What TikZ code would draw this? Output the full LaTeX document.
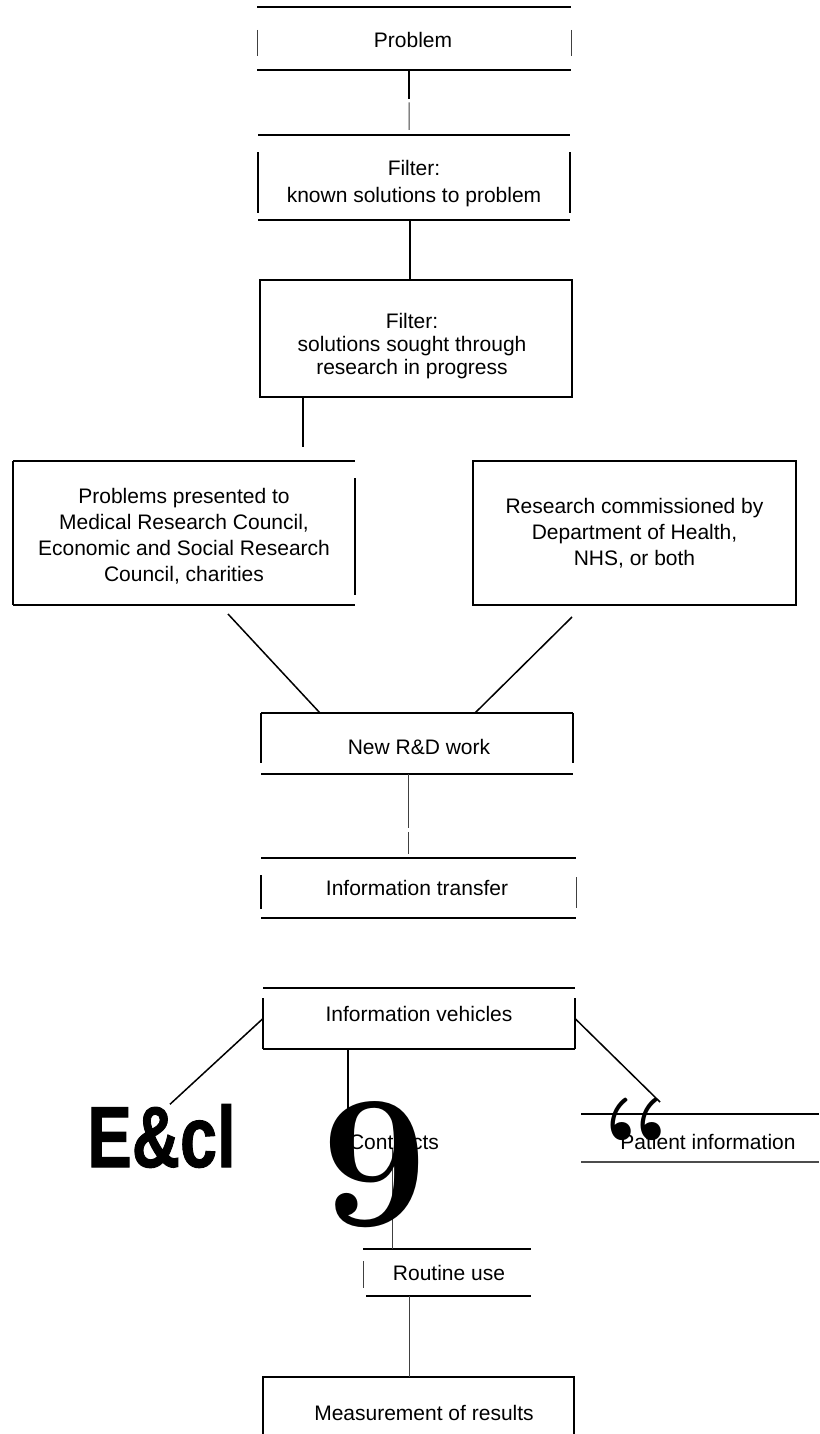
\documentclass[tikz,border=0pt]{standalone}
\usepackage{graphicx}
\usepackage{fontspec}
\newfontfamily\lib[WordSpace=2.1]{Liberation Sans}
\newfontfamily\libb[BoldFeatures={FakeBold=1.2}]{Liberation Sans}
\usetikzlibrary{calc}
\begin{document}
\begin{tikzpicture}[x=0.5pt,y=-0.5pt,
  every node/.style={inner sep=0pt, outer sep=0pt},
  frame/.style={rectangle, draw=none},
  txt/.style={font=\lib\fontsize{10.5pt}{13pt}\selectfont, align=center},
  ln/.style={line width=0.75pt},
  thk/.style={line width=1.3pt},
  thn/.style={line width=0.5pt, black!75}]
\fill[white] (0,0) rectangle (819,1434);
\useasboundingbox (0,0) rectangle (819,1434);

% ---- Problem
\node[frame, minimum width=157pt, minimum height=31.5pt] (prob) at (414,38.5) {};
\node[txt] (tprob) at (413,40) {Problem};
\draw[ln] (prob.north west) -- (prob.north east);
\draw[ln] (prob.south west) -- (prob.south east);
\draw[thn] ([yshift=-11.5pt]prob.north west) -- ([yshift=-24.5pt]prob.north west);
\draw[thn] ([yshift=-11.5pt]prob.north east) -- ([yshift=-24.5pt]prob.north east);

% ---- Filter 1
\node[frame, minimum width=156pt, minimum height=42.5pt] (filt1) at (414,177.5) {};
\node[txt, font=\lib\fontsize{10.5pt}{13.5pt}\selectfont] (tfilt1) at (414,183.5) {Filter:\\known solutions to problem};
\draw[ln] (filt1.north west) -- (filt1.north east);
\draw[ln] (filt1.south west) -- (filt1.south east);
\draw[ln] ([yshift=-8.5pt]filt1.north west) -- ([yshift=-39pt]filt1.north west);
\draw[ln] ([yshift=-8.5pt]filt1.north east) -- ([yshift=-39pt]filt1.north east);

% ---- Filter 2
\node[frame, draw, ln, minimum width=156pt, minimum height=58.5pt] (filt2) at (416,338.5) {};
\node[txt, font=\lib\fontsize{10.5pt}{11.5pt}\selectfont] (tfilt2) at (412,346) {Filter:\\solutions sought through\\research in progress};

% ---- Left box
\node[frame, minimum width=171pt, minimum height=72pt] (lb) at (184,533) {};
\node[txt] (tlb) at (184,536) {Problems presented to\\Medical Research Council,\\Economic and Social Research\\Council, charities};
\draw[ln] (lb.north west) -- (lb.north east);
\draw[thk] (lb.south west) -- (lb.south east);
\draw[ln] (lb.north west) -- (lb.south west);
\draw[ln] ([yshift=-8.5pt]lb.north east) -- ([yshift=-67pt]lb.north east);

% ---- Right box
\node[frame, draw, ln, minimum width=161.5pt, minimum height=72pt] (rb) at (634.5,533) {};
\node[txt] (trb) at (634.5,533) {Research commissioned by\\Department of Health,\\NHS, or both};

% ---- New R&D work
\node[frame, minimum width=156pt, minimum height=30.5pt] (rd) at (417,743.5) {};
\node[txt] (trd) at (419,747) {New R\&D work};
\draw[thk] (rd.north west) -- (rd.north east);
\draw[ln] (rd.south west) -- (rd.south east);
\draw[ln] (rd.north west) -- ([yshift=-25pt]rd.north west);
\draw[thk] (rd.north east) -- ([yshift=-25pt]rd.north east);

% ---- Information transfer
\node[frame, minimum width=157.5pt, minimum height=30pt] (it) at (418.5,888) {};
\node[txt] (tit) at (417,888) {Information transfer};
\draw[ln] (it.north west) -- (it.north east);
\draw[ln] (it.south west) -- (it.south east);
\draw[thk] ([yshift=-8.5pt]it.north west) -- ([yshift=-25.5pt]it.north west);
\draw[thn] ([yshift=-9.5pt]it.north east) -- ([yshift=-25pt]it.north east);

% ---- Information vehicles
\node[frame, minimum width=156pt, minimum height=30.5pt] (iv) at (419,1018.5) {};
\node[txt] (tiv) at (419,1014) {Information vehicles};
\draw[thk] (iv.north west) -- (iv.north east);
\draw[ln] (iv.south west) -- (iv.south east);
\draw[ln] ([yshift=-5pt]iv.north west) -- (iv.south west);
\draw[ln] ([yshift=-5pt]iv.north east) -- (iv.south east);

% ---- bottom row
\node[anchor=base] (ecl) at (161.5,1167) {\libb\bfseries\fontsize{43.3pt}{43.3pt}\selectfont\scalebox{0.77}[1]{E\&cl}};
\node[txt] (contr) at (394,1142) {Contracts};
\node[frame, minimum width=119pt, minimum height=24pt] (pat) at (700,1138) {};
\node[txt] (tpat) at (708,1142) {Patient information};
\draw[ln] (pat.north west) -- (pat.north east);
\draw[thk, black!70] (pat.south west) -- (pat.south east);

% ---- Routine use
\node[frame, minimum width=84pt, minimum height=23.5pt] (rout) at (447,1272.5) {};
\node[txt] (trout) at (449,1273) {Routine use};
\draw[thk] (rout.north west) -- (rout.north east);
\draw[ln] ([xshift=1.5pt]rout.south west) -- (rout.south east);
\draw[thn] ([yshift=-6pt]rout.north west) -- ([yshift=-19.5pt]rout.north west);

% ---- Measurement of results
\node[frame, minimum width=155.5pt, minimum height=28.5pt] (meas) at (418.5,1405.5) {};
\node[txt] (tmeas) at (424,1413) {Measurement of results};
\draw[ln] (meas.south west) -- (meas.north west) -- (meas.north east) -- (meas.south east);

% ---- connectors
\coordinate (k1) at ([xshift=-2.5pt]prob.south);
\coordinate (k1b) at (k1 |- filt1.north);
\draw[ln] (k1) -- ($(k1)!0.44!(k1b)$);
\draw[thn] ($(k1)!0.5!(k1b)$) -- ($(k1)!0.92!(k1b)$);
\coordinate (k2) at ([xshift=-2pt]filt1.south);
\draw[ln] (k2) -- (k2 |- filt2.north);
\coordinate (k3) at ([xshift=-56.5pt]filt2.south);
\draw[ln, shorten >=7pt] (k3) -- (k3 |- lb.north);
\draw[ln] ([xshift=-63.5pt,yshift=-4.5pt]lb.south east) -- ([xshift=29.5pt]rd.north west);
\draw[ln] ([xshift=49.5pt,yshift=-6pt]rb.south west) -- ([xshift=-49pt]rd.north east);
\coordinate (k4) at ([xshift=-4.5pt]rd.south);
\coordinate (k4b) at (k4 |- it.north);
\draw[thn] (k4) -- ($(k4)!0.64!(k4b)$);
\draw[thn] ($(k4)!0.69!(k4b)$) -- ($(k4)!0.95!(k4b)$);
\draw[ln] (iv.west) -- ([xshift=4.25pt]ecl.north);
\coordinate (k5) at ([xshift=-35.5pt]iv.south);
\draw[ln] (k5) -- (k5 |- contr.north);
\draw[ln] (iv.east) -- ([xshift=-20pt,yshift=6pt]pat.north);
\coordinate (k6) at ([xshift=-27.5pt]rout.north);
\draw[thn] (k6 |- contr.south) -- (k6);
\coordinate (k7) at ([xshift=-19pt]rout.south);
\draw[thn] (k7) -- (k7 |- meas.north);

% ---- overprinted glyphs
\node[anchor=base] (nine) at (375,1225) {\fontsize{94.5pt}{94.5pt}\selectfont\bfseries 9};
\node[anchor=base] (quo) at (637,1185) {\fontsize{63pt}{63pt}\selectfont\bfseries “};
\end{tikzpicture}
\end{document}
